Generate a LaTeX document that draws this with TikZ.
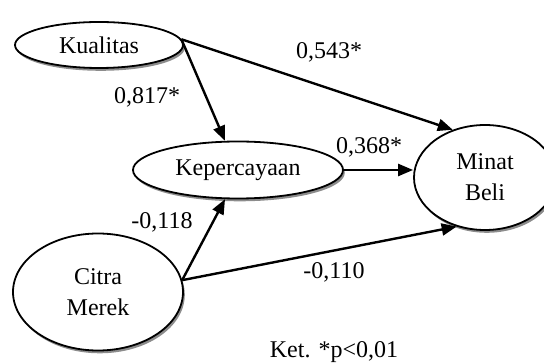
\documentclass[tikz,border=0pt]{standalone}
\usepackage{fontspec}
\setmainfont{Liberation Serif}
\usetikzlibrary{arrows.meta,shadows,calc,shapes.geometric}
\begin{document}
\begin{tikzpicture}[x=1pt,y=1pt,
  font=\fontsize{24}{31}\selectfont,
  var/.style={ellipse,draw=black,line width=1.8pt,fill=white,inner sep=0pt,align=center,
    drop shadow={shadow xshift=1.8pt,shadow yshift=-2.8pt,fill=black!45,opacity=1}},
  conn/.style={line width=2.4pt,-{Triangle[length=15pt,width=12pt]}},
  lbl/.style={inner sep=0pt}]
\useasboundingbox (0,0) rectangle (544,364);
\node[var,minimum width=168pt,minimum height=46pt] (kual) at (99,319) {Kualitas};
\node[var,minimum width=210pt,minimum height=57pt] (kep) at (238,194) {Kepercayaan};
\node[var,minimum width=142pt,minimum height=105pt] (minat) at (485,186.5) {Minat\\Beli};
\node[var,minimum width=170pt,minimum height=117pt] (citra) at (98,72) {Citra\\Merek};
\draw[conn] (kual.4) -- (kep.114);
\draw[conn] (kual.4) -- (minat.124);
\draw[conn] (kep.east) -- (kep.east -| minat.west);
\draw[conn] (citra.8) -- (kep.-114);
\draw[conn] (citra.8) -- (minat.-120);
\node[lbl] (l1) at (329,312) {0,543*};
\node[lbl] (l2) at (147,267) {0,817*};
\node[lbl] (l3) at (369,217) {0,368*};
\node[lbl] (l4) at (162,142) {-0,118};
\node[lbl] (l5) at (334,92) {-0,110};
\node[lbl] (ket) at (334,12) {Ket. *p<0,01};
\end{tikzpicture}
\end{document}
